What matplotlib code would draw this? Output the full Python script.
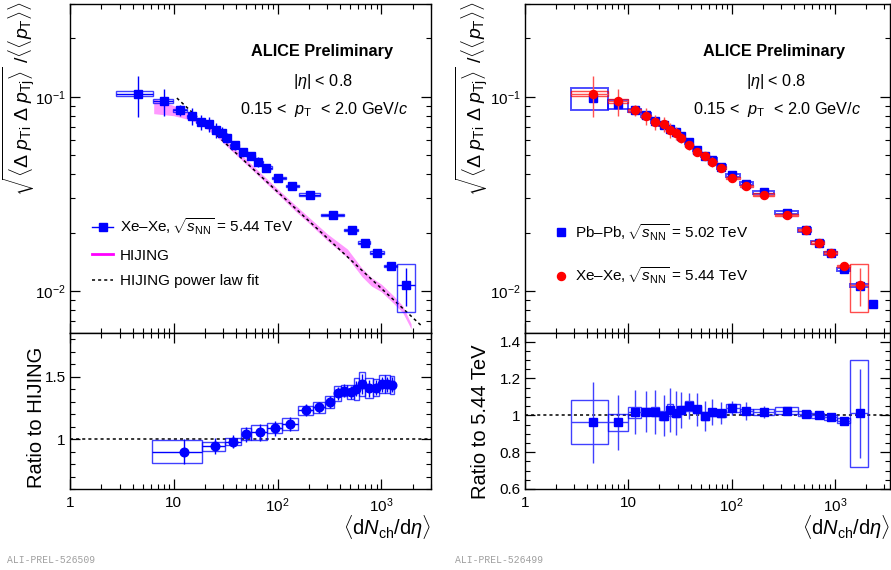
import numpy as np
import matplotlib
matplotlib.use("Agg")
import matplotlib.pyplot as plt
from matplotlib.patches import Rectangle
from matplotlib.lines import Line2D
from matplotlib.ticker import FixedLocator, FixedFormatter, MultipleLocator, LogLocator, NullFormatter

plt.rcParams["font.family"] = ["Liberation Sans", "DejaVu Sans"]
plt.rcParams["mathtext.fontset"] = "custom"
plt.rcParams["mathtext.rm"] = "Liberation Sans"
plt.rcParams["mathtext.it"] = "Liberation Sans:italic"
plt.rcParams["mathtext.bf"] = "Liberation Sans:bold"
plt.rcParams["mathtext.sf"] = "Liberation Sans"

# --- Xe-Xe 5.44 TeV (same points in both upper panels) ---
xexe_x = [4.5, 8.0, 11.5, 14.9, 18.2, 22.0, 25.5, 29.0, 32.5, 38.5, 46.5, 55.5,
          65.0, 78.0, 101, 138, 206, 345, 522, 692, 915, 1230, 1730]
xexe_y = [0.1035, 0.0948, 0.0852, 0.0793, 0.0742, 0.0721, 0.0672, 0.0650, 0.0615,
          0.0562, 0.0520, 0.0497, 0.0463, 0.0432, 0.0383, 0.0347, 0.0314, 0.0247,
          0.0207, 0.0178, 0.0158, 0.0135, 0.0108]
xexe_lo = [2.8, 6.3, 9.9, 13.3, 16.5, 20.0, 23.5, 27.0, 31.0, 35.0, 42.5, 51.0,
           60.5, 71.5, 88, 120, 160, 263, 440, 590, 780, 1050, 1400]
xexe_hi = [6.3, 9.9, 13.3, 16.5, 20.0, 23.5, 27.0, 31.0, 35.0, 42.5, 51.0, 60.5,
           71.5, 88, 120, 160, 255, 440, 590, 780, 1050, 1400, 2100]
xexe_stat = [0.24, 0.16, 0.07, 0.10, 0.09, 0.09, 0.09, 0.08, 0.06, 0.05, 0.05, 0.04,
             0.06, 0.05, 0.03, 0.02, 0.015, 0.015, 0.015, 0.015, 0.015, 0.015, 0.22]
xexe_sys = [0.03, 0.025, 0.02, 0.02, 0.015, 0.015, 0.015, 0.015, 0.015, 0.015, 0.015,
            0.015, 0.015, 0.015, 0.015, 0.015, 0.015, 0.015, 0.015, 0.015, 0.015, 0.015, 0.28]

# --- HIJING band and power law fit ---
hij_x = [6.4, 10, 14, 18, 25, 35, 50, 70, 100, 150, 200, 300, 470, 650, 800, 1000, 1300, 1600, 1930]
hij_y = [0.0900, 0.0850, 0.0795, 0.0748, 0.0652, 0.0552, 0.0462, 0.0390, 0.0326, 0.0266,
         0.0232, 0.0190, 0.0157, 0.0125, 0.0112, 0.0104, 0.0091, 0.0081, 0.0066]
hij_w = [0.09, 0.06, 0.04, 0.03, 0.03, 0.03, 0.03, 0.03, 0.03, 0.035, 0.035, 0.04, 0.05,
         0.05, 0.05, 0.045, 0.045, 0.04, 0.03]
fit_x = [10.7, 2500]
fit_y = [0.0985, 0.00655]

# --- Ratio to HIJING ---
rh_x = [12.5, 24.8, 37.2, 50.1, 67.0, 94.2, 131.6, 189, 251, 316, 378, 438, 505, 565,
        646, 759, 881, 1007, 1135, 1268]
rh_y = [0.899, 0.944, 0.979, 1.037, 1.053, 1.085, 1.122, 1.231, 1.255, 1.298, 1.367,
        1.388, 1.375, 1.402, 1.441, 1.407, 1.412, 1.439, 1.441, 1.434]
rh_lo = [6.17, 18.8, 31.1, 44.2, 56.0, 78.3, 110, 157, 218, 287, 346, 410, 470, 540,
         605, 700, 820, 940, 1070, 1200]
rh_hi = [18.8, 31.1, 44.2, 56.0, 78.3, 110, 157, 218, 287, 346, 410, 470, 540, 605,
         700, 820, 940, 1070, 1200, 1330]
rh_stat = [0.10, 0.065, 0.05, 0.06, 0.07, 0.06, 0.055, 0.05, 0.045, 0.045, 0.05, 0.05,
           0.05, 0.06, 0.08, 0.07, 0.06, 0.06, 0.06, 0.06]
rh_sys = [0.093, 0.036, 0.027, 0.048, 0.06, 0.04, 0.047, 0.038, 0.043, 0.047, 0.06,
          0.045, 0.055, 0.085, 0.095, 0.08, 0.067, 0.073, 0.075, 0.07]

# --- Pb-Pb 5.02 TeV ---
pbpb_x = [4.5, 8.0, 11.5, 14.9, 18.2, 22.0, 25.5, 29.0, 32.5, 38.5, 46.5, 55.5,
          65.0, 78.0, 101, 138, 206, 345, 522, 692, 915, 1230, 1730, 2350]
pbpb_y = [0.0984, 0.0913, 0.0853, 0.0807, 0.0752, 0.0720, 0.0684, 0.0657, 0.0627,
          0.0583, 0.0535, 0.0498, 0.0475, 0.0435, 0.0394, 0.0357, 0.0322, 0.0254,
          0.0207, 0.0178, 0.01564, 0.01294, 0.0107, 0.00857]
pbpb_lo = xexe_lo + [2200]
pbpb_hi = xexe_hi + [2550]
pbpb_sys = [0.13, 0.05, 0.02, 0.02, 0.02, 0.02, 0.02, 0.02, 0.02, 0.02, 0.02, 0.02,
            0.02, 0.02, 0.02, 0.02, 0.02, 0.02, 0.02, 0.02, 0.02, 0.02, 0.02, 0.02]

# --- Ratio to 5.44 TeV ---
rr_y = [0.962, 0.962, 1.016, 1.020, 1.020, 0.998, 1.029, 1.011, 1.029, 1.051, 1.033,
        0.996, 1.016, 1.011, 1.040, 1.022, 1.018, 1.025, 1.009, 1.000, 0.989, 0.971, 1.011]
rr_stat = [0.22, 0.15, 0.12, 0.11, 0.12, 0.11, 0.12, 0.12, 0.10, 0.07, 0.09, 0.08,
           0.07, 0.06, 0.04, 0.05, 0.03, 0.02, 0.02, 0.02, 0.02, 0.02, 0.24]
rr_sys = [0.12, 0.045, 0.03, 0.02, 0.025, 0.025, 0.03, 0.02, 0.02, 0.025, 0.02, 0.02,
          0.02, 0.02, 0.02, 0.015, 0.015, 0.02, 0.015, 0.015, 0.015, 0.015, 0.29]

BLUE, RED, MAG = "#0000ff", "#ff0000", "#ff00ff"
W, H = 891, 570
TICK_FS = 11
TITLE_FS = 14.5
TEXT_FS = 11.7


def fig_rect(x0, y0, x1, y1):
    return [x0 / W, 1 - y1 / H, (x1 - x0) / W, (y1 - y0) / H]


def boxes(ax, lo, hi, y, dy, color, lw=1.0, alpha=0.75):
    for a, b, c, d in zip(lo, hi, y, dy):
        ax.add_patch(Rectangle((a, c - d), b - a, 2 * d, fill=False, ec=color,
                               lw=lw, alpha=alpha, zorder=3))


def style(ax, xmax, bottom):
    ax.set_xscale("log")
    ax.set_xlim(1, xmax)
    ax.xaxis.set_major_locator(FixedLocator([1, 10, 100, 1000]))
    ax.xaxis.set_minor_locator(LogLocator(base=10, subs=np.arange(2, 10)))
    ax.xaxis.set_minor_formatter(NullFormatter())
    if bottom:
        ax.xaxis.set_major_formatter(FixedFormatter(["1", "10", "$10^{2}$", "$10^{3}$"]))
    else:
        ax.xaxis.set_major_formatter(NullFormatter())
    ax.tick_params(which="both", direction="in", top=True, right=True, labelsize=TICK_FS)
    ax.tick_params(which="major", length=7, width=0.9, pad=5)
    ax.tick_params(which="minor", length=3.5, width=0.8)
    ax.tick_params(axis="y", which="major", pad=3)
    for s in ax.spines.values():
        s.set_linewidth(1.0)


def style_top(ax):
    ax.set_yscale("log")
    ax.set_ylim(0.0061, 0.30)
    ax.yaxis.set_major_locator(FixedLocator([0.01, 0.1]))
    ax.yaxis.set_major_formatter(FixedFormatter(["$10^{-2}$", "$10^{-1}$"]))
    ax.yaxis.set_minor_locator(LogLocator(base=10, subs=np.arange(2, 10)))
    ax.yaxis.set_minor_formatter(NullFormatter())


def header(ax, xc):
    kw = dict(ha="center", va="center", transform=ax.transAxes, fontsize=TEXT_FS)
    ax.text(xc, 0.857, "ALICE Preliminary", fontweight="bold", **kw)
    ax.text(xc + 0.005, 0.765, r"$|\eta|$ < 0.8", **kw)
    ax.text(xc + 0.008, 0.680, r"0.15 <  $p_{\mathrm{T}}$  < 2.0 GeV/$c$", **kw)


fig = plt.figure(figsize=(W / 100, H / 100), dpi=100)
axLT = fig.add_axes(fig_rect(70, 4, 431, 333))
axLB = fig.add_axes(fig_rect(70, 333, 431, 489))
axRT = fig.add_axes(fig_rect(525, 4, 890, 333))
axRB = fig.add_axes(fig_rect(525, 333, 890, 489))

# ---------------- left upper ----------------
ax = axLT
style(ax, 3000, False)
style_top(ax)
hy = np.array(hij_y)
hw = np.array(hij_w)
ax.fill_between(hij_x, hy * (1 - hw), hy * (1 + hw), color=MAG, alpha=0.4, lw=0, zorder=1)
ax.plot(fit_x, fit_y, color="k", ls=(0, (2, 2)), lw=1.1, zorder=2)
x = np.array(xexe_x); y = np.array(xexe_y)
lo = np.array(xexe_lo); hi = np.array(xexe_hi)
boxes(ax, lo, hi, y, y * np.array(xexe_sys), BLUE)
ax.errorbar(x, y, yerr=y * np.array(xexe_stat), xerr=[x - lo, hi - x], fmt="s", color=BLUE,
            ms=5.5, elinewidth=1.0, capsize=0, zorder=4)
header(ax, 0.697)
h_xexe = Line2D([], [], color=BLUE, marker="s", ms=5.5, lw=1)
h_hij = Line2D([], [], color=MAG, lw=2)
h_fit = Line2D([], [], color="k", ls=(0, (2, 2)), lw=1.1)
ax.legend([h_xexe, h_hij, h_fit],
          [r"Xe–Xe,$\,\sqrt{s_{\mathrm{NN}}}$ = 5.44 TeV", "HIJING", "HIJING power law fit"],
          loc="upper left", bbox_to_anchor=(0.061, 0.354), frameon=False, fontsize=11,
          handlelength=1.4, handletextpad=0.4, labelspacing=0.75, borderpad=0,
          borderaxespad=0)

# ---------------- left lower ----------------
ax = axLB
style(ax, 3000, True)
ax.set_ylim(0.6, 1.85)
ax.yaxis.set_major_locator(FixedLocator([1.0, 1.5]))
ax.yaxis.set_major_formatter(FixedFormatter(["1", "1.5"]))
ax.yaxis.set_minor_locator(MultipleLocator(0.1))
ax.axhline(1, color="k", ls=(0, (2, 2)), lw=1.1, zorder=2)
x = np.array(rh_x); y = np.array(rh_y)
lo = np.array(rh_lo); hi = np.array(rh_hi)
boxes(ax, lo, hi, y, rh_sys, BLUE)
ax.errorbar(x, y, yerr=rh_stat, xerr=[x - lo, hi - x], fmt="o", color=BLUE, ms=6.2,
            elinewidth=1.0, capsize=0, zorder=4)

# ---------------- right upper ----------------
ax = axRT
style(ax, 3400, False)
style_top(ax)
x = np.array(pbpb_x); y = np.array(pbpb_y)
boxes(ax, pbpb_lo, pbpb_hi, y, y * np.array(pbpb_sys), BLUE, lw=1.4, alpha=0.7)
ax.plot(x, y, "s", color=BLUE, ms=5.8, zorder=4)
x = np.array(xexe_x); y = np.array(xexe_y)
lo = np.array(xexe_lo); hi = np.array(xexe_hi)
boxes(ax, lo, hi, y, y * np.array(xexe_sys), RED, lw=1.0, alpha=0.7)
ax.errorbar(x, y, yerr=y * np.array(xexe_stat), xerr=[x - lo, hi - x], fmt="o", color=RED,
            ms=5.8, elinewidth=1.0, capsize=0, zorder=5, ecolor="#ff5050")
header(ax, 0.682)
h_pb = Line2D([], [], color=BLUE, marker="s", ms=5.8, lw=0)
h_xe = Line2D([], [], color=RED, marker="o", ms=5.8, lw=0)
ax.legend([h_pb, h_xe],
          [r"Pb–Pb,$\,\sqrt{s_{\mathrm{NN}}}$ = 5.02 TeV", r"Xe–Xe,$\,\sqrt{s_{\mathrm{NN}}}$ = 5.44 TeV"],
          loc="upper left", bbox_to_anchor=(0.0795, 0.338), frameon=False, fontsize=11,
          handlelength=0.9, handletextpad=0.45, labelspacing=1.5, borderpad=0,
          borderaxespad=0)

# ---------------- right lower ----------------
ax = axRB
style(ax, 3400, True)
ax.set_ylim(0.6, 1.447)
ax.yaxis.set_major_locator(FixedLocator([0.6, 0.8, 1.0, 1.2, 1.4]))
ax.yaxis.set_major_formatter(FixedFormatter(["0.6", "0.8", "1", "1.2", "1.4"]))
ax.yaxis.set_minor_locator(MultipleLocator(0.05))
ax.axhline(1, color="k", ls=(0, (2, 2)), lw=1.1, zorder=2)
x = np.array(pbpb_x[:-1]); y = np.array(rr_y)
lo = np.array(pbpb_lo[:-1]); hi = np.array(pbpb_hi[:-1])
boxes(ax, lo, hi, y, rr_sys, BLUE)
ax.errorbar(x, y, yerr=rr_stat, xerr=[x - lo, hi - x], fmt="s", color=BLUE, ms=5.8,
            elinewidth=1.0, capsize=0, zorder=4, ecolor="#4040ff")

# ---------------- axis titles ----------------
ylab = (r"$\sqrt{\langle\Delta\ p_{\mathrm{Ti}}\ \Delta\ p_{\mathrm{Tj}}\rangle}\ /"
        r"\langle\langle p_{\mathrm{T}}\rangle\rangle$")
fig.text(19 / W, 1 - 1 / H, ylab, rotation=90, ha="center", va="top", fontsize=14)
fig.text(472 / W, 1 - 1 / H, ylab, rotation=90, ha="center", va="top", fontsize=14)
fig.text(37 / W, 1 - 417 / H, "Ratio to HIJING", rotation=90, ha="center", va="center",
         fontsize=TITLE_FS)
fig.text(481 / W, 1 - 422 / H, "Ratio to 5.44 TeV", rotation=90, ha="center", va="center",
         fontsize=TITLE_FS)
xlab = r"$\langle\mathrm{d}N_{\mathrm{ch}}/\mathrm{d}\eta\rangle$"
fig.text(431 / W, 1 - 527 / H, xlab, ha="right", va="center", fontsize=TITLE_FS)
fig.text(890 / W, 1 - 527 / H, xlab, ha="right", va="center", fontsize=TITLE_FS)

fig.text(7 / W, 1 - 560 / H, "ALI-PREL-526509", family="Liberation Mono", fontsize=7,
         color="#a0a0a0", va="center")
fig.text(455 / W, 1 - 560 / H, "ALI-PREL-526499", family="Liberation Mono", fontsize=7,
         color="#a0a0a0", va="center")

fig.savefig("out.png", dpi=100)
